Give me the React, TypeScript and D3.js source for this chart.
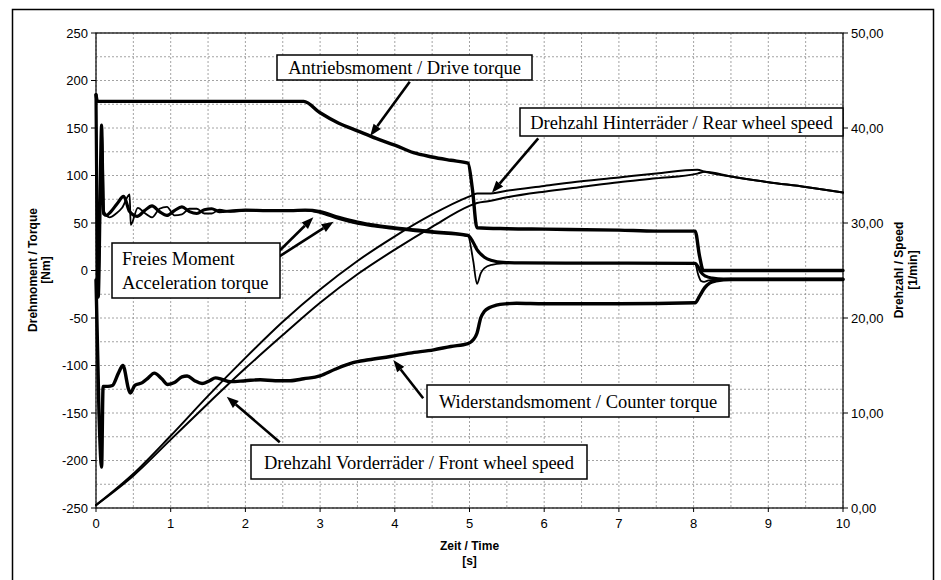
import React from 'react';
import * as d3 from 'd3';

// Antriebsmoment / Drive torque [Nm]
const driveT = [0, 0.02, 2.78, 3.0, 3.25, 3.5, 3.75, 4.0, 4.25, 4.5, 4.75, 4.98, 5.04, 5.1, 5.5, 6, 7, 7.5, 8.02, 8.08, 8.13, 10];
const driveV = [185, 178, 178, 166, 155, 147, 139, 132, 124, 119.5, 116, 113, 85, 45, 44, 43.5, 42.5, 41.5, 41.5, 15, 0, 0];

// Widerstandsmoment / Counter torque [Nm]
const counterT = [0, 0.04, 0.075, 0.095, 0.16, 0.22, 0.3, 0.36, 0.44, 0.46, 0.52, 0.62, 0.7, 0.78, 0.88, 0.96, 1.05, 1.15, 1.22, 1.32, 1.42, 1.52, 1.6, 1.7, 1.8, 2.0, 2.2, 2.4, 2.6, 2.78, 3.0, 3.2, 3.44, 3.65, 3.94, 4.2, 4.52, 4.75, 4.98, 5.05, 5.1, 5.15, 5.2, 5.27, 5.36, 5.5, 5.63, 6, 7, 8.02, 8.08, 8.15, 8.22, 8.3, 8.5, 10];
const counterV = [-10, -150, -207, -122, -122, -121, -108, -100, -126, -129, -121, -118, -113, -108, -114, -120, -118, -112, -111, -116, -119, -116, -113, -115, -117, -116, -115, -116, -116, -114, -111, -104, -97, -94, -90.5, -87, -83.5, -80, -77, -73, -66, -50, -43, -39, -36.5, -35, -34.5, -35, -35, -34, -27, -18, -13, -11, -9.5, -9.5];

// Freies Moment / Acceleration torque [Nm], two wheel sets
const accel1T = [0, 0.03, 0.075, 0.1, 0.14, 0.2, 0.28, 0.37, 0.45, 0.55, 0.65, 0.75, 0.85, 0.95, 1.05, 1.15, 1.25, 1.35, 1.45, 1.55, 1.65, 1.8, 2.0, 2.3, 2.6, 2.8, 3.0, 3.25, 3.5, 3.75, 4.0, 4.5, 4.98, 5.04, 5.1, 5.2, 5.3, 5.45, 5.7, 6.5, 8.02, 8.06, 8.1, 8.16, 8.25, 8.4, 10];
const accel1V = [185, -28, 153, 60, 58, 62, 70, 78, 62, 57, 63, 68, 62, 58, 63, 67, 62, 60, 64, 65, 62, 62.5, 63.5, 63, 63, 63.5, 62, 56, 51, 47.5, 45, 41, 37, 31, 22, 14, 10.5, 8.5, 8, 7.8, 7.5, 4, -2, -6, -8, -9, -9];
const accel2T = [0, 0.035, 0.08, 0.11, 0.18, 0.27, 0.35, 0.45, 0.465, 0.56, 0.66, 0.75, 0.85, 0.95, 1.05, 1.15, 1.25, 1.35, 1.45, 1.55, 1.65, 1.8, 2.0, 2.3, 2.6, 2.8, 3.0, 3.25, 3.5, 3.75, 4.0, 4.5, 4.98, 5.05, 5.1, 5.15, 5.2, 5.3, 5.45, 5.7, 6.5, 8.02, 8.06, 8.1, 8.14, 8.2, 8.35, 10];
const accel2V = [183, -25, 150, 62, 56, 60, 66, 80, 48, 66, 60, 56, 65, 67, 58, 59, 65, 65, 60, 60, 64, 62, 63, 63.5, 63, 63, 60.5, 54, 49, 46, 43.5, 39.5, 36, 10, -14, -3, 2.5, 6, 7.5, 8, 7.8, 7.5, -4, -11, -12, -10.5, -9.5, -9];

// Drehzahl / Speed [1/min]
const speedT = [0, 0.5, 1, 1.5, 2, 2.5, 3, 3.5, 4, 4.5, 5, 5.1, 5.25, 5.5, 6, 6.5, 7, 7.5, 8.05, 8.15, 8.5, 9, 9.5, 10];
const rearS = [0.3, 3.6, 7.6, 11.8, 15.8, 19.6, 23.0, 26.0, 28.6, 30.9, 32.8, 33.1, 33.1, 33.4, 33.9, 34.4, 34.8, 35.2, 35.6, 35.4, 34.9, 34.3, 33.8, 33.2];
const frontS = [0.3, 3.4, 7.2, 11.0, 14.7, 18.2, 21.6, 24.6, 27.2, 29.6, 31.8, 32.1, 32.3, 32.7, 33.3, 33.8, 34.3, 34.7, 35.2, 35.4, 34.9, 34.3, 33.8, 33.2];

const timeTicks = [0, 1, 2, 3, 4, 5, 6, 7, 8, 9, 10];
const torqueTicks = [-250, -200, -150, -100, -50, 0, 50, 100, 150, 200, 250];
const speedTicks = [0, 10, 20, 30, 40, 50];

const W = 941;
const H = 580;
const left = 96, right = 843, top = 33, bottom = 508;

const x = d3.scaleLinear().domain([0, 10]).range([left, right]);
const yT = d3.scaleLinear().domain([-250, 250]).range([bottom, top]);
const yS = d3.scaleLinear().domain([0, 50]).range([bottom, top]);

const zip = (ts: number[], vs: number[]) => ts.map((t, i) => [t, vs[i]] as [number, number]);

const torqueLine = d3.line<[number, number]>()
  .x(d => x(d[0]))
  .y(d => yT(d[1]))
  .curve(d3.curveMonotoneX);
const speedLine = d3.line<[number, number]>()
  .x(d => x(d[0]))
  .y(d => yS(d[1]))
  .curve(d3.curveMonotoneX);

// annotation arrows, in data units (time, torque)
const arrows = [
  { from: [4.2, 198.7], to: [3.67, 141.6] },
  { from: [5.92, 139], to: [5.3, 81.9] },
  { from: [2.24, 4], to: [2.91, 56] },
  { from: [2.24, 4], to: [3.18, 51.4] },
  { from: [4.38, -134.5], to: [3.98, -94.2] },
  { from: [2.46, -180.8], to: [1.75, -132.8] },
];

const serif = '"Liberation Serif", "Times New Roman", serif';
const sans = '"Liberation Sans", Arial, sans-serif';

const gridX = d3.range(0, 10.01, 0.5);
const gridY = d3.range(-250, 250.1, 25);

const fmtSpeed = (v: number) => v.toFixed(2).replace('.', ',');

function Arrow({ from, to }: { from: number[]; to: number[] }) {
  const x1 = x(from[0]), y1 = yT(from[1]);
  const x2 = x(to[0]), y2 = yT(to[1]);
  const a = Math.atan2(y2 - y1, x2 - x1);
  const len = 12, half = 4.5;
  const bx = x2 - len * Math.cos(a), by = y2 - len * Math.sin(a);
  const p1 = [bx + half * Math.sin(a), by - half * Math.cos(a)];
  const p2 = [bx - half * Math.sin(a), by + half * Math.cos(a)];
  return (
    <g>
      <line x1={x1} y1={y1} x2={bx} y2={by} stroke="#000" strokeWidth={2.6} />
      <polygon points={`${x2},${y2} ${p1[0]},${p1[1]} ${p2[0]},${p2[1]}`} fill="#000" />
    </g>
  );
}

function Box({ x0, y0, w, h, lines, anchor = 'middle' }: { x0: number; y0: number; w: number; h: number; lines: string[]; anchor?: string }) {
  const lh = 24;
  const startY = y0 + h / 2 - ((lines.length - 1) * lh) / 2 + 6.5;
  return (
    <g>
      <rect x={x0} y={y0} width={w} height={h} fill="#fff" stroke="#000" strokeWidth={1.5} />
      {lines.map((s, i) => (
        <text key={i} x={anchor === 'middle' ? x0 + w / 2 : x0 + 10} y={startY + i * lh}
          textAnchor={anchor} fontFamily={serif} fontSize={18.5} fill="#000">{s}</text>
      ))}
    </g>
  );
}

export default function App() {
  return (
    <>
      <style>{`body{margin:0;background:#fff}`}</style>
      <svg width={W} height={H} style={{ display: 'block', background: '#fff' }}>
        <rect x={12.5} y={9.5} width={921} height={600} fill="none" stroke="#000" strokeWidth={1.5} />

        {/* grid */}
        <g stroke="#8c8c8c" strokeWidth={0.8} strokeDasharray="2,2">
          {gridX.map(t => <line key={'gx' + t} x1={x(t)} x2={x(t)} y1={top} y2={bottom} />)}
          {gridY.map(v => <line key={'gy' + v} x1={left} x2={right} y1={yT(v)} y2={yT(v)} />)}
        </g>
        <rect x={left} y={top} width={right - left} height={bottom - top} fill="none" stroke="#000" strokeWidth={1.2} />

        {/* ticks and labels */}
        <g fontFamily={sans} fontSize={13} fill="#000">
          {torqueTicks.map(v => (
            <g key={'lt' + v}>
              <line x1={left - 5} x2={left} y1={yT(v)} y2={yT(v)} stroke="#000" />
              <text x={left - 8} y={yT(v) + 4.5} textAnchor="end">{v}</text>
            </g>
          ))}
          {speedTicks.map(v => (
            <g key={'rt' + v}>
              <line x1={right} x2={right + 5} y1={yS(v)} y2={yS(v)} stroke="#000" />
              <text x={right + 8} y={yS(v) + 4.5} textAnchor="start">{fmtSpeed(v)}</text>
            </g>
          ))}
          {timeTicks.map(t => (
            <g key={'bt' + t}>
              <line x1={x(t)} x2={x(t)} y1={bottom} y2={bottom + 4} stroke="#000" />
              <text x={x(t)} y={bottom + 20} textAnchor="middle">{t}</text>
            </g>
          ))}
        </g>

        <g fontFamily={sans} fontSize={12} fontWeight="bold" fill="#000" textAnchor="middle">
          <text transform={`translate(37,270) rotate(-90)`}>Drehmoment / Torque</text>
          <text transform={`translate(50,270) rotate(-90)`}>[Nm]</text>
          <text transform={`translate(903,270) rotate(-90)`}>Drehzahl / Speed</text>
          <text transform={`translate(917,270) rotate(-90)`}>[1/min]</text>
          <text x={(left + right) / 2} y={550}>Zeit / Time</text>
          <text x={(left + right) / 2} y={565}>[s]</text>
        </g>

        {/* curves */}
        <g fill="none" stroke="#000" strokeLinejoin="round" strokeLinecap="round">
          <path d={speedLine(zip(speedT, rearS)) || ''} strokeWidth={2} />
          <path d={speedLine(zip(speedT, frontS)) || ''} strokeWidth={2} />
          <path d={torqueLine(zip(accel2T, accel2V)) || ''} strokeWidth={1.8} />
          <path d={torqueLine(zip(accel1T, accel1V)) || ''} strokeWidth={3.2} />
          <path d={torqueLine(zip(counterT, counterV)) || ''} strokeWidth={3.4} />
          <path d={torqueLine(zip(driveT, driveV)) || ''} strokeWidth={3.4} />
        </g>

        {/* annotations */}
        {arrows.map((a, i) => <Arrow key={i} from={a.from} to={a.to} />)}
        <Box x0={277} y0={55} w={255} h={25} lines={['Antriebsmoment / Drive torque']} />
        <Box x0={520} y0={108} w={323} h={28} lines={['Drehzahl Hinterräder / Rear wheel speed']} />
        <Box x0={112} y0={243} w={168} h={55} lines={['Freies Moment', 'Acceleration torque']} anchor="start" />
        <Box x0={427} y0={385} w={302} h={32} lines={['Widerstandsmoment / Counter torque']} />
        <Box x0={251} y0={445} w={336} h={34} lines={['Drehzahl Vorderräder / Front wheel speed']} />
      </svg>
    </>
  );
}
